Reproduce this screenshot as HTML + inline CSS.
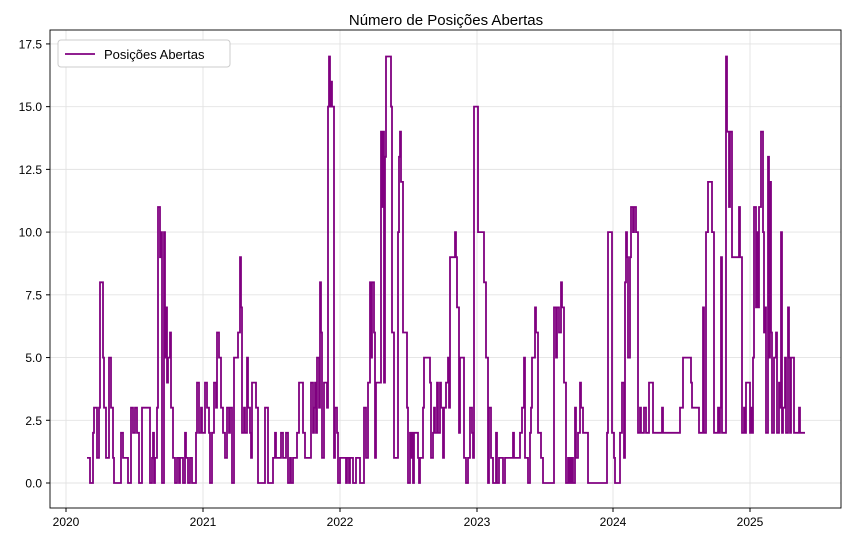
<!DOCTYPE html>
<html><head><meta charset="utf-8"><style>
body{margin:0;background:#fff;}
svg{display:block;font-family:"Liberation Sans",sans-serif;}
</style></head><body>
<svg id="s" width="851" height="541" xmlns="http://www.w3.org/2000/svg">
<rect width="851" height="541" fill="#fff"/>
<text x="446" y="25" font-size="15" text-anchor="middle" fill="#000">Número de Posições Abertas</text>
<g id="grid" stroke="#e3e3e3" stroke-width="0.9"></g>
<g id="ticks" font-size="12" fill="#000"></g>
<path id="p" fill="none" stroke="#800080" stroke-width="1.8" stroke-linejoin="miter"/>
<rect x="50" y="30" width="791" height="478" fill="none" stroke="#000" stroke-width="0.9"/>
<rect x="58" y="40" width="172" height="27" rx="3" fill="#fff" stroke="#ccc"/>
<line x1="65" y1="54" x2="95" y2="54" stroke="#800080" stroke-width="1.8"/>
<text x="104" y="59" font-size="13" fill="#000">Posições Abertas</text>
</svg>
<script>
var NS="http://www.w3.org/2000/svg";
function Y(v){return 483-v*25.09;}
var g=document.getElementById('grid'),t=document.getElementById('ticks');
function el(p,n,a,txt){var e=document.createElementNS(NS,n);for(var k in a)e.setAttribute(k,a[k]);if(txt)e.textContent=txt;p.appendChild(e);}
var yl=["0.0","2.5","5.0","7.5","10.0","12.5","15.0","17.5"];
for(var i=0;i<8;i++){var y=Y(i*2.5);el(g,'line',{x1:50,x2:841,y1:y,y2:y});el(t,'line',{x1:46,x2:50,y1:y,y2:y,stroke:'#000'});el(t,'text',{x:42,y:y+4.5,'text-anchor':'end'},yl[i]);}
var xs=[66,203,340,477,613,750];
for(var i=0;i<6;i++){var x=xs[i];el(g,'line',{x1:x,x2:x,y1:30,y2:508});el(t,'line',{x1:x,x2:x,y1:508,y2:512,stroke:'#000'});el(t,'text',{x:x,y:526,'text-anchor':'middle'},String(2020+i));}
var d="87:1,90:0,93:2,94:3,97:1,99:3,100:8,103:5,104:3,106:1,109:5,111:3,113:1,114:0,117:0,121:2,123:1,125:1,128:0,131:3,133:2,135:3,137:2,139:0,142:3,147:3,150:0,152:1,153:2,154:0,155:1,157:3,158:11,160:9,161:10,162:0,164:10,165:5,166:7,167:4,168:5,170:6,171:3,173:1,175:0,177:1,179:0,180:1,183:0,185:2,186:1,188:0,190:1,192:0,196:2,197:4,199:2,201:3,202:2,205:4,207:3,209:2,210:0,212:2,214:4,216:3,217:6,219:5,221:3,223:2,225:1,227:3,229:2,230:3,232:0,234:5,236:5,238:6,240:9,241:7,242:2,244:3,245:2,247:5,248:3,250:2,251:1,252:4,254:4,256:3,258:0,262:0,265:3,268:0,270:0,273:1,275:2,276:1,279:1,281:2,283:1,285:1,286:2,288:0,290:1,291:0,293:1,295:1,297:2,299:4,303:2,305:1,309:1,311:4,313:2,314:3,315:4,316:2,317:5,319:3,320:8,321:6,322:1,324:4,326:4,327:3,328:15,329:17,330:15,331:16,332:15,334:1,335:3,337:2,338:0,340:1,343:1,345:1,346:0,347:1,349:0,350:1,353:0,356:1,358:1,360:0,362:0,364:3,366:1,368:4,370:8,371:5,372:8,374:6,375:1,376:4,379:4,381:14,382:11,383:14,384:4,385:13,386:17,391:15,392:6,394:1,398:10,399:13,400:14,401:12,403:6,405:6,407:3,408:0,410:2,411:1,412:2,413:0,414:2,416:2,418:1,419:0,420:1,423:3,424:5,428:5,430:4,431:1,433:2,434:3,435:2,437:4,438:2,440:4,441:3,443:1,444:3,446:4,448:5,449:3,450:9,455:10,456:9,457:7,459:2,460:5,462:5,464:1,466:0,468:1,470:3,472:2,473:1,474:15,476:15,478:10,484:8,486:5,488:0,489:3,491:1,493:0,496:2,497:0,499:1,501:1,503:0,505:1,509:1,513:2,514:1,517:1,519:1,520:2,522:3,524:5,525:1,528:0,530:2,531:3,532:5,535:7,536:6,538:2,541:1,543:0,545:0,554:7,556:5,557:7,559:6,561:8,562:7,564:4,566:0,568:1,569:0,570:1,571:0,572:1,573:0,575:3,576:1,578:2,580:4,581:3,583:2,585:2,588:0,606:0,607:2,608:10,612:2,614:1,615:0,618:0,620:2,622:4,624:1,625:8,626:10,627:9,628:5,630:9,631:11,633:10,634:11,636:10,638:2,640:3,641:2,642:2,644:3,646:2,649:4,651:4,653:2,662:3,663:2,680:3,683:5,690:5,691:4,692:3,698:3,699:2,703:7,704:2,706:10,708:12,712:10,714:2,718:3,719:2,720:3,721:9,722:2,726:17,727:14,729:11,730:14,732:9,738:9,739:11,740:9,742:2,744:3,745:2,746:4,749:4,750:2,751:3,752:2,753:5,754:11,756:7,757:10,758:7,759:11,761:14,763:10,764:6,765:7,766:2,768:13,769:5,770:12,771:6,772:2,774:5,776:6,777:2,779:4,780:3,781:10,782:2,783:3,785:5,786:2,788:7,789:5,790:2,791:5,793:5,794:2,799:3,800:2,805:2";
var pts=d.split(',').map(function(s){var a=s.split(':');return [+a[0],+a[1]];});
var path="M"+pts[0][0]+" "+Y(pts[0][1]).toFixed(1);
for(var i=1;i<pts.length;i++){path+=" H"+pts[i][0]+" V"+Y(pts[i][1]).toFixed(1);}
document.getElementById('p').setAttribute('d',path);
</script>
</body></html>
